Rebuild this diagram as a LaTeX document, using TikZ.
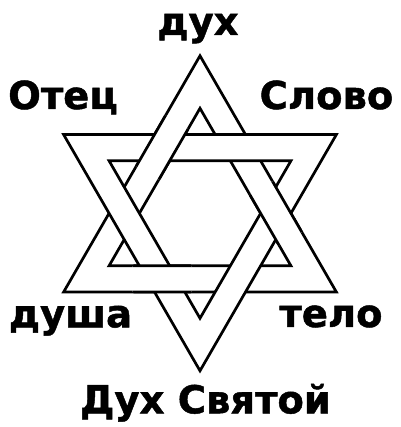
\documentclass[tikz,border=0pt]{standalone}
\usepackage{fontspec}
\setmainfont{DejaVu Sans}[BoldFeatures={FakeBold=1.2}]
\usetikzlibrary{calc}
\begin{document}
\begin{tikzpicture}[x=1pt,y=1pt,
  band/.style={fill=white, draw=black, line width=2.7pt, line join=miter, even odd rule},
  lbl/.style={font=\bfseries\fontsize{38.5}{42}\selectfont, inner sep=0pt, anchor=base}]
\useasboundingbox (0,0) rectangle (400,427);
\coordinate (C) at (200,213.7);
% upward triangle
\coordinate (UO1) at ($(C)+(90:157.5)$);
\coordinate (UO2) at ($(C)+(210:157.5)$);
\coordinate (UO3) at ($(C)+(330:157.5)$);
\coordinate (UI1) at ($(C)+(90:105)$);
\coordinate (UI2) at ($(C)+(210:105)$);
\coordinate (UI3) at ($(C)+(330:105)$);
% downward triangle
\coordinate (DO1) at ($(C)+(270:157.5)$);
\coordinate (DO2) at ($(C)+(30:157.5)$);
\coordinate (DO3) at ($(C)+(150:157.5)$);
\coordinate (DI1) at ($(C)+(270:105)$);
\coordinate (DI2) at ($(C)+(30:105)$);
\coordinate (DI3) at ($(C)+(150:105)$);
\path[band] (UO1)--(UO2)--(UO3)--cycle (UI1)--(UI2)--(UI3)--cycle;
\path[band] (DO1)--(DO2)--(DO3)--cycle (DI1)--(DI2)--(DI3)--cycle;
\foreach \a in {0,120,240}{
  \begin{scope}
    \clip ($(C)+(\a:75.8)$) circle (32);
    \path[band] (UO1)--(UO2)--(UO3)--cycle (UI1)--(UI2)--(UI3)--cycle;
  \end{scope}
}
\node[lbl] (dukh) at (198,392) {дух};
\node[lbl] (otets) at (63,318) {Отец};
\node[lbl] (slovo) at (326.5,318) {Слово};
\node[lbl] (dusha) at (70.5,99.7) {душа};
\node[lbl] (telo) at (331,100) {тело};
\node[lbl] (svyatoy) at (205.5,13.7) {Дух Святой};
\end{tikzpicture}
\end{document}
